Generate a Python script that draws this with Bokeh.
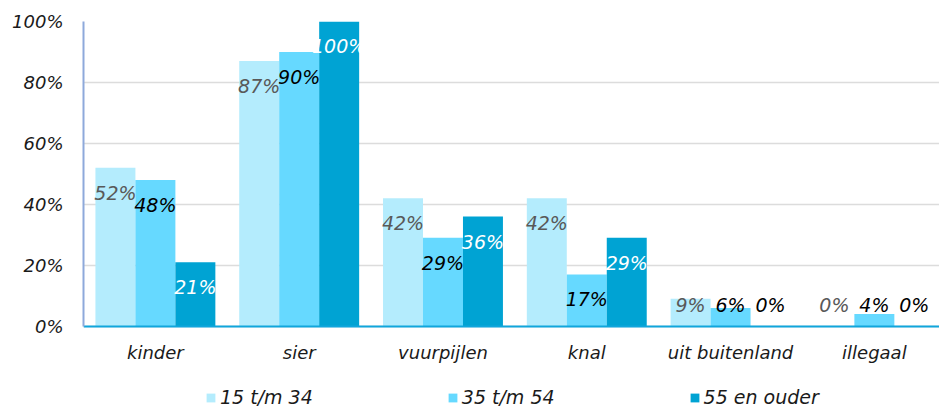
from bokeh.plotting import figure
from bokeh.models import ColumnDataSource, Range1d, FixedTicker, Legend, LegendItem
from bokeh.core.properties import value
from bokeh.embed import file_html
from bokeh.resources import INLINE
import numpy as np

# ---- data ----
categories = ["kinder", "sier", "vuurpijlen", "knal", "uit buitenland", "illegaal"]
series_names = ["15 t/m 34", "35 t/m 54", "55 en ouder"]
v_15_34 = [52, 87, 42, 42, 9, 0]
v_35_54 = [48, 90, 29, 17, 6, 4]
v_55_plus = [21, 100, 36, 29, 0, 0]
y_ticks = [0, 20, 40, 60, 80, 100]
y_tick_labels = ["0%", "20%", "40%", "60%", "80%", "100%"]

# ---- styles ----
colors = ["#B4ECFD", "#66D9FF", "#00A3D3"]
FONT = "DejaVu Sans"
bar_w = 0.278
offsets = [-bar_w, 0.0, bar_w]

# the frame extends below 0 so that the category labels and legend live inside it
p = figure(width=939, height=408,
           x_range=Range1d(0, 5.953), y_range=Range1d(-27, 100),
           output_backend="svg", toolbar_location=None,
           min_border_left=83, min_border_right=0,
           min_border_top=21, min_border_bottom=0)
p.outline_line_color = None
p.background_fill_color = "white"
p.border_fill_color = "white"

all_series = [v_15_34, v_35_54, v_55_plus]
legend_items = []
for k, (vals, name) in enumerate(zip(all_series, series_names)):
    vals_a = np.array(vals, dtype=float)
    xs = np.arange(len(categories)) + 0.5 + offsets[k]
    label_y = np.maximum(vals_a - 8.2, 6.9)
    if k == 0:
        tcol = ["#595959"] * len(vals)
    elif k == 1:
        tcol = ["#000000"] * len(vals)
    else:
        tcol = ["#FFFFFF" if v > 15 else "#000000" for v in vals]
    src = ColumnDataSource(dict(x=xs, top=vals_a, ly=label_y,
                                txt=[f"{v}%" for v in vals], tc=tcol))
    r = p.vbar(x="x", top="top", bottom=0, width=bar_w, source=src,
               fill_color=colors[k], line_color=None)
    p.text(x="x", y="ly", text="txt", source=src, text_color="tc",
           text_align="center", text_baseline="middle",
           text_font=value(FONT), text_font_style="italic",
           text_font_size="19px")
    legend_items.append(LegendItem(label=name, renderers=[r]))

# axes
p.xgrid.visible = False
p.ygrid.grid_line_color = "#DCDCDC"
p.ygrid.grid_line_width = 1.5
p.ygrid.ticker = FixedTicker(ticks=y_ticks)

p.xaxis.ticker = FixedTicker(ticks=[i + 0.5 for i in range(len(categories))])
p.xaxis.major_label_overrides = {i + 0.5: c for i, c in enumerate(categories)}
p.xaxis.fixed_location = 0
p.yaxis.ticker = FixedTicker(ticks=y_ticks)
p.yaxis.major_label_overrides = {t: l for t, l in zip(y_ticks, y_tick_labels)}
p.yaxis.bounds = (0, 100)

for ax in (p.xaxis[0], p.yaxis[0]):
    ax.major_tick_line_color = None
    ax.minor_tick_line_color = None
    ax.major_tick_out = 0
    ax.major_tick_in = 0
    ax.minor_tick_out = 0
    ax.minor_tick_in = 0
    ax.major_label_text_font = FONT
    ax.major_label_text_font_style = "italic"
    ax.major_label_text_font_size = "18px"
    ax.major_label_text_color = "#1A1A1A"
p.xaxis.axis_line_color = "#10A6DC"
p.xaxis.axis_line_width = 2
p.xaxis.major_label_standoff = 16
p.yaxis.axis_line_color = "#8EA9DB"
p.yaxis.axis_line_width = 2
p.yaxis.major_label_standoff = 20

legend = Legend(items=legend_items, orientation="horizontal", location=(122, 0))
legend.glyph_width = 11
legend.glyph_height = 11
legend.label_standoff = 4
legend.spacing = 134
legend.padding = 0
legend.margin = 0
legend.border_line_color = None
legend.background_fill_alpha = 0
legend.label_text_font = FONT
legend.label_text_font_style = "italic"
legend.label_text_font_size = "19px"
legend.label_text_color = "#1A1A1A"
p.add_layout(legend, "center")

open("out.html", "w").write(file_html(p, INLINE))
